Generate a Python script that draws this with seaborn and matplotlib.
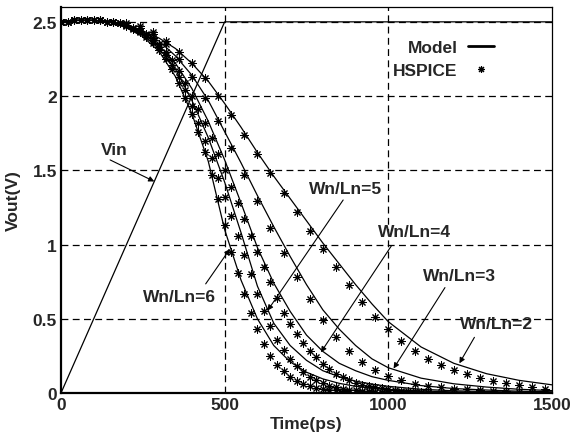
import numpy as np
import pandas as pd
import matplotlib
matplotlib.use("Agg")
import matplotlib.pyplot as plt
from matplotlib.lines import Line2D
import seaborn as sns

# ==========================================
# DATA
# ==========================================
ratios = ["2", "3", "4", "5", "6"]

# model curves, sampled on a common time grid (ps)
model_t = [0, 50, 100, 150, 200, 250, 300, 350, 400, 450, 500, 550, 600, 650, 700,
           750, 800, 850, 900, 950, 1000, 1100, 1200, 1300, 1400, 1500]
model_2 = [2.50, 2.51, 2.51, 2.50, 2.48, 2.44, 2.39, 2.32, 2.22, 2.10, 1.95, 1.79, 1.62, 1.46, 1.31,
           1.16, 1.01, 0.87, 0.73, 0.60, 0.48, 0.31, 0.20, 0.13, 0.085, 0.055]
model_3 = [2.50, 2.51, 2.51, 2.50, 2.47, 2.43, 2.37, 2.27, 2.14, 1.97, 1.76, 1.55, 1.33, 1.12, 0.92,
           0.73, 0.56, 0.43, 0.32, 0.23, 0.17, 0.10, 0.062, 0.04, 0.025, 0.016]
model_4 = [2.50, 2.51, 2.51, 2.50, 2.47, 2.42, 2.34, 2.22, 2.05, 1.83, 1.57, 1.28, 0.98, 0.74, 0.55,
           0.39, 0.28, 0.20, 0.15, 0.11, 0.085, 0.05, 0.03, 0.02, 0.012, 0.008]
model_5 = [2.50, 2.51, 2.51, 2.50, 2.46, 2.41, 2.32, 2.18, 1.97, 1.72, 1.42, 1.08, 0.72, 0.47, 0.32,
           0.22, 0.15, 0.11, 0.08, 0.06, 0.045, 0.025, 0.015, 0.01, 0.006, 0.004]
model_6 = [2.50, 2.51, 2.51, 2.50, 2.46, 2.40, 2.30, 2.13, 1.88, 1.56, 1.10, 0.76, 0.50, 0.32, 0.21,
           0.14, 0.095, 0.065, 0.045, 0.032, 0.024, 0.013, 0.008, 0.005, 0.003, 0.002]

# HSPICE points: Wn/Ln = 2, 3 every 40 ps; 4, 5, 6 every 20 ps
hspice_step = {"2": 40, "3": 40, "4": 20, "5": 20, "6": 20}
hspice_2 = [2.50, 2.51, 2.51, 2.51, 2.50, 2.49, 2.47, 2.43, 2.37, 2.30, 2.22, 2.12, 2.00, 1.87, 1.74,
            1.61, 1.48, 1.35, 1.22, 1.09, 0.97, 0.85, 0.73, 0.615, 0.51, 0.43, 0.35, 0.28, 0.23,
            0.19, 0.155, 0.125, 0.10, 0.08, 0.065, 0.052, 0.04, 0.03]
hspice_3 = [2.50, 2.51, 2.51, 2.51, 2.50, 2.48, 2.46, 2.42, 2.35, 2.25, 2.13, 1.99, 1.83, 1.65, 1.47,
            1.29, 1.11, 0.94, 0.78, 0.63, 0.49, 0.38, 0.28, 0.21, 0.155, 0.115, 0.085, 0.063, 0.048,
            0.038, 0.03, 0.024, 0.019, 0.015, 0.012, 0.01, 0.008, 0.006]
hspice_4 = [2.50, 2.50, 2.51, 2.51, 2.51, 2.51, 2.51, 2.50, 2.50, 2.49, 2.48, 2.46, 2.44, 2.42, 2.39,
            2.35, 2.30, 2.24, 2.17, 2.09, 2.00, 1.91, 1.82, 1.72, 1.61, 1.50, 1.39, 1.28, 1.17, 1.06,
            0.95, 0.85, 0.75, 0.64, 0.54, 0.465, 0.40, 0.335, 0.285, 0.24, 0.195, 0.16, 0.13, 0.105,
            0.085, 0.07, 0.057, 0.047, 0.038, 0.031, 0.025, 0.02, 0.016, 0.013, 0.011, 0.009, 0.007]
hspice_5 = [2.50, 2.50, 2.51, 2.51, 2.51, 2.51, 2.51, 2.50, 2.50, 2.49, 2.48, 2.46, 2.44, 2.41, 2.38,
            2.33, 2.28, 2.21, 2.13, 2.04, 1.93, 1.82, 1.70, 1.58, 1.45, 1.32, 1.19, 1.06, 0.93, 0.80,
            0.67, 0.55, 0.45, 0.36, 0.29, 0.23, 0.18, 0.14, 0.11, 0.085, 0.065, 0.05, 0.039, 0.03,
            0.023, 0.018, 0.014, 0.011, 0.009, 0.007, 0.006, 0.005, 0.004, 0.003, 0.003, 0.002, 0.002]
hspice_6 = [2.50, 2.50, 2.51, 2.51, 2.51, 2.51, 2.51, 2.50, 2.50, 2.49, 2.47, 2.45, 2.43, 2.40, 2.36,
            2.31, 2.25, 2.18, 2.09, 1.99, 1.88, 1.76, 1.62, 1.47, 1.31, 1.13, 0.95, 0.81, 0.67, 0.54,
            0.43, 0.33, 0.25, 0.19, 0.145, 0.11, 0.083, 0.062, 0.047, 0.036, 0.028, 0.022, 0.017,
            0.013, 0.010, 0.008, 0.006, 0.005, 0.004, 0.003, 0.003, 0.002, 0.002, 0.002, 0.001,
            0.001, 0.001]

# input ramp
vin_t = [0, 500, 1500]
vin_v = [0, 2.5, 2.5]

x_ticks = [0, 500, 1000, 1500]
y_ticks = [0, 0.5, 1, 1.5, 2, 2.5]
y_tick_labels = ["0", "0.5", "1", "1.5", "2", "2.5"]

# label text, text position, arrow tail and tip (data coords)
labels = ["Vin", "Wn/Ln=6", "Wn/Ln=5", "Wn/Ln=4", "Wn/Ln=3", "Wn/Ln=2"]
label_xy = [(163, 1.64), (362, 0.65), (868, 1.375), (1080, 1.085), (1216, 0.79), (1331, 0.465)]
arrow_from = [(150, 1.57), (442, 0.735), (862, 1.30), (1009, 0.99), (1173, 0.71), (1263, 0.375)]
arrow_tip = [(285, 1.425), (516, 0.97), (631, 0.555), (794, 0.274), (1016, 0.165), (1217, 0.20)]

# ==========================================
# BUILD LONG-FORM TABLES
# ==========================================
model_vals = dict(zip(ratios, [model_2, model_3, model_4, model_5, model_6]))
hspice_vals = dict(zip(ratios, [hspice_2, hspice_3, hspice_4, hspice_5, hspice_6]))

model_df = pd.concat([pd.DataFrame({"t": model_t, "v": v, "ratio": r}) for r, v in model_vals.items()])
hspice_df = pd.concat([
    pd.DataFrame({"t": np.arange(len(v)) * hspice_step[r], "v": v, "ratio": r})
    for r, v in hspice_vals.items()
])
vin_df = pd.DataFrame({"t": vin_t, "v": vin_v})

# ==========================================
# PLOT
# ==========================================
sns.set_style("white")
plt.rcParams["font.family"] = ["Liberation Sans", "DejaVu Sans"]
plt.rcParams["font.weight"] = "bold"
FS = 12.5
STAR = (8, 2, 0)   # matlab-like asterisk

fig = plt.figure(figsize=(5.71, 4.39), dpi=100)
ax = fig.add_axes([61 / 571, 1 - 394 / 439, 491 / 571, 386 / 439])

dash = (0, (5.5, 3.5))
for xv in x_ticks[1:-1]:
    ax.axvline(xv, color="black", lw=0.9, ls=dash, zorder=1)
for yv in y_ticks[1:]:
    ax.axhline(yv, color="black", lw=0.9, ls=dash, zorder=1)

sns.lineplot(data=vin_df, x="t", y="v", color="black", lw=0.9, ax=ax, zorder=2)
sns.lineplot(data=model_df, x="t", y="v", units="ratio", estimator=None,
             color="black", lw=0.9, ax=ax, zorder=3)
sns.scatterplot(data=hspice_df, x="t", y="v", marker=STAR, color="black",
                s=28, linewidth=0.75, ax=ax, zorder=4, legend=False)

for txt, xy, p0, p1 in zip(labels, label_xy, arrow_from, arrow_tip):
    ax.text(xy[0], xy[1], txt, fontsize=FS, fontweight="bold", ha="center", va="center")
    ax.annotate("", xy=p1, xytext=p0,
                arrowprops=dict(arrowstyle="-|>", color="black", lw=0.8,
                                mutation_scale=8, shrinkA=0, shrinkB=0))

handles = [Line2D([], [], color="black", lw=2.0),
           Line2D([], [], color="black", ls="none", marker=STAR, ms=5, mew=0.8)]
ax.legend(handles, ["Model", "HSPICE"], markerfirst=False, frameon=False,
          loc="upper right", bbox_to_anchor=(0.882, 0.915), borderpad=0, borderaxespad=0,
          handlelength=1.5, handletextpad=0.6, labelspacing=0.45,
          prop={"size": FS, "weight": "bold"})

ax.set_xlim(0, 1500)
ax.set_ylim(0, 2.6)
ax.set_xticks(x_ticks)
ax.set_xticklabels([str(x) for x in x_ticks])
ax.set_yticks(y_ticks)
ax.set_yticklabels(y_tick_labels)
ax.tick_params(labelsize=FS, direction="in", length=3, width=0.8, pad=3)
for lab in ax.get_xticklabels() + ax.get_yticklabels():
    lab.set_fontweight("bold")

ax.set_xlabel("Time(ps)", fontsize=FS, fontweight="bold", labelpad=3)
ax.set_ylabel("Vout(V)", fontsize=FS, fontweight="bold", labelpad=8)

for side in ["left", "bottom"]:
    ax.spines[side].set_linewidth(1.6)
for side in ["top", "right"]:
    ax.spines[side].set_linewidth(0.9)
for sp in ax.spines.values():
    sp.set_color("black")

fig.savefig("out.png", dpi=100, facecolor="white")
